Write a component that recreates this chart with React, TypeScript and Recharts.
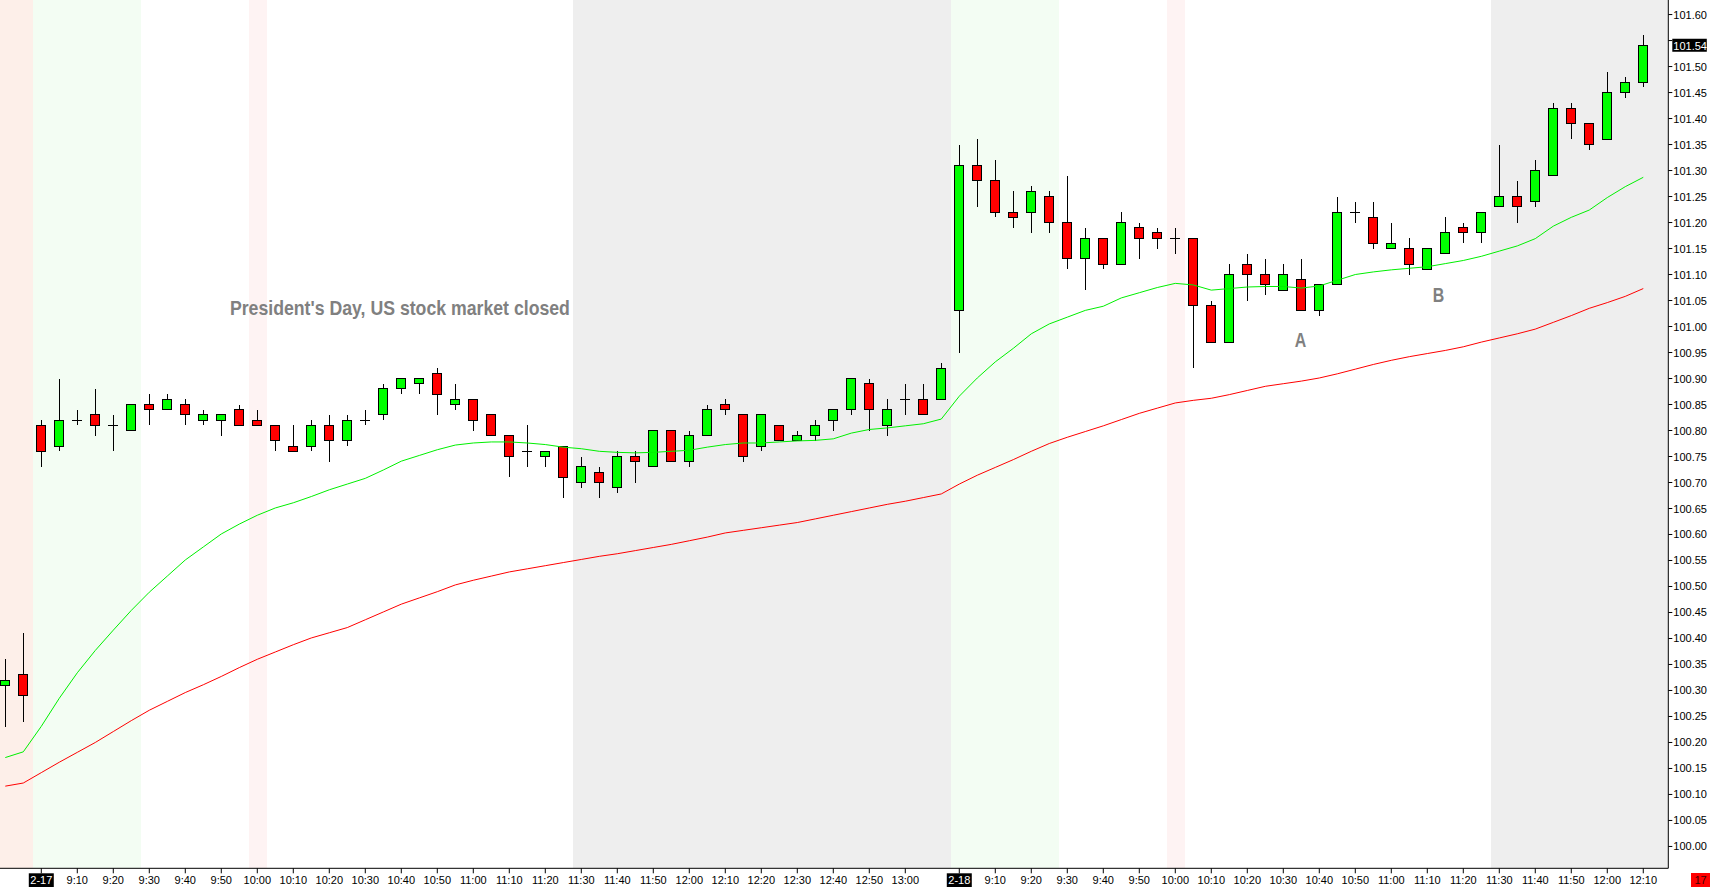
import React from 'react';
import {
  ComposedChart,
  Bar,
  Line,
  XAxis,
  YAxis,
  ReferenceArea,
  ReferenceLine,
  ReferenceDot,
} from 'recharts';

// ---- bar times (5-minute bars) ----
const times = [
  '13:05', '13:10',
  '9:00', '9:05', '9:10', '9:15', '9:20', '9:25', '9:30', '9:35', '9:40', '9:45', '9:50', '9:55',
  '10:00', '10:05', '10:10', '10:15', '10:20', '10:25', '10:30', '10:35', '10:40', '10:45', '10:50', '10:55',
  '11:00', '11:05', '11:10', '11:15', '11:20', '11:25', '11:30', '11:35', '11:40', '11:45', '11:50', '11:55',
  '12:00', '12:05', '12:10', '12:15', '12:20', '12:25', '12:30', '12:35', '12:40', '12:45', '12:50', '12:55',
  '13:00', '13:05', '13:10',
  '9:00', '9:05', '9:10', '9:15', '9:20', '9:25', '9:30', '9:35', '9:40', '9:45', '9:50', '9:55',
  '10:00', '10:05', '10:10', '10:15', '10:20', '10:25', '10:30', '10:35', '10:40', '10:45', '10:50', '10:55',
  '11:00', '11:05', '11:10', '11:15', '11:20', '11:25', '11:30', '11:35', '11:40', '11:45', '11:50', '11:55',
  '12:00', '12:05', '12:10',
];

// ---- OHLC ----
const opens = [
  100.31, 100.33,
  100.81, 100.77, 100.82, 100.83, 100.81, 100.80, 100.85, 100.84, 100.85, 100.82, 100.82, 100.84,
  100.82, 100.81, 100.77, 100.77, 100.81, 100.78, 100.82, 100.83, 100.88, 100.89, 100.91, 100.85,
  100.86, 100.83, 100.79, 100.76, 100.75, 100.77, 100.70, 100.72, 100.69, 100.75, 100.73, 100.80,
  100.74, 100.79, 100.85, 100.83, 100.77, 100.81, 100.78, 100.79, 100.82, 100.84, 100.89, 100.81,
  100.86, 100.86, 100.86,
  101.03, 101.31, 101.28, 101.22, 101.22, 101.25, 101.20, 101.13, 101.17, 101.12, 101.19, 101.18,
  101.17, 101.17, 101.04, 100.97, 101.12, 101.10, 101.07, 101.09, 101.03, 101.08, 101.22, 101.21,
  101.15, 101.15, 101.11, 101.14, 101.19, 101.18, 101.23, 101.25, 101.24, 101.29, 101.42, 101.39,
  101.36, 101.45, 101.47,
];
const highs = [
  100.36, 100.41,
  100.82, 100.90, 100.84, 100.88, 100.83, 100.85, 100.87, 100.87, 100.86, 100.84, 100.83, 100.85,
  100.84, 100.81, 100.81, 100.82, 100.83, 100.83, 100.84, 100.89, 100.90, 100.90, 100.92, 100.89,
  100.86, 100.83, 100.79, 100.81, 100.76, 100.77, 100.75, 100.73, 100.76, 100.76, 100.80, 100.80,
  100.80, 100.85, 100.86, 100.83, 100.83, 100.81, 100.80, 100.82, 100.84, 100.90, 100.90, 100.86,
  100.89, 100.89, 100.93,
  101.35, 101.36, 101.32, 101.26, 101.27, 101.26, 101.29, 101.19, 101.17, 101.22, 101.20, 101.19,
  101.19, 101.17, 101.05, 101.12, 101.14, 101.13, 101.12, 101.13, 101.08, 101.25, 101.24, 101.24,
  101.20, 101.17, 101.15, 101.21, 101.20, 101.22, 101.35, 101.28, 101.32, 101.43, 101.43, 101.39,
  101.49, 101.48, 101.56,
];
const lows = [
  100.23, 100.24,
  100.73, 100.76, 100.81, 100.79, 100.76, 100.80, 100.81, 100.84, 100.81, 100.81, 100.79, 100.81,
  100.81, 100.76, 100.76, 100.76, 100.74, 100.77, 100.81, 100.82, 100.87, 100.87, 100.83, 100.84,
  100.80, 100.79, 100.71, 100.73, 100.73, 100.67, 100.69, 100.67, 100.68, 100.70, 100.73, 100.74,
  100.73, 100.79, 100.83, 100.74, 100.76, 100.78, 100.78, 100.78, 100.80, 100.83, 100.80, 100.79,
  100.83, 100.83, 100.86,
  100.95, 101.23, 101.21, 101.19, 101.18, 101.18, 101.11, 101.07, 101.11, 101.12, 101.13, 101.15,
  101.14, 100.92, 100.97, 100.97, 101.05, 101.06, 101.07, 101.03, 101.02, 101.08, 101.20, 101.15,
  101.15, 101.10, 101.11, 101.14, 101.16, 101.16, 101.23, 101.20, 101.23, 101.29, 101.36, 101.34,
  101.36, 101.44, 101.46,
];
const closes = [
  100.32, 100.29,
  100.76, 100.82, 100.82, 100.81, 100.81, 100.85, 100.84, 100.86, 100.83, 100.83, 100.83, 100.81,
  100.81, 100.78, 100.76, 100.81, 100.78, 100.82, 100.82, 100.88, 100.90, 100.90, 100.87, 100.86,
  100.82, 100.79, 100.75, 100.76, 100.76, 100.71, 100.73, 100.70, 100.75, 100.74, 100.80, 100.74,
  100.79, 100.84, 100.84, 100.75, 100.83, 100.78, 100.79, 100.81, 100.84, 100.90, 100.84, 100.84,
  100.86, 100.83, 100.92,
  101.31, 101.28, 101.22, 101.21, 101.26, 101.20, 101.13, 101.17, 101.12, 101.20, 101.17, 101.17,
  101.17, 101.04, 100.97, 101.10, 101.10, 101.08, 101.10, 101.03, 101.08, 101.22, 101.22, 101.16,
  101.16, 101.12, 101.15, 101.18, 101.18, 101.22, 101.25, 101.23, 101.30, 101.42, 101.39, 101.35,
  101.45, 101.47, 101.54,
];

// ---- moving averages ----
const emaFast = [
  100.171, 100.182, 100.231, 100.285, 100.334, 100.377, 100.416, 100.454, 100.489, 100.520,
  100.551, 100.576, 100.601, 100.620, 100.637, 100.651, 100.661, 100.673, 100.686, 100.697,
  100.708, 100.724, 100.741, 100.752, 100.763, 100.772, 100.776, 100.778, 100.778, 100.776,
  100.773, 100.768, 100.765, 100.760, 100.758, 100.757, 100.758, 100.760, 100.762, 100.768,
  100.773, 100.776, 100.776, 100.778, 100.780, 100.781, 100.784, 100.795, 100.802, 100.805,
  100.809, 100.813, 100.822, 100.866, 100.901, 100.932, 100.958, 100.986, 101.005, 101.018,
  101.031, 101.039, 101.055, 101.065, 101.075, 101.083, 101.080, 101.070, 101.073, 101.076,
  101.077, 101.077, 101.074, 101.078, 101.089, 101.100, 101.105, 101.109, 101.112, 101.115,
  101.121, 101.127, 101.135, 101.145, 101.155, 101.169, 101.193, 101.210, 101.224, 101.248,
  101.269, 101.287,
];
const emaSlow = [
  100.116, 100.122, 100.142, 100.162, 100.181, 100.200, 100.221, 100.242, 100.262, 100.279,
  100.296, 100.311, 100.327, 100.344, 100.360, 100.374, 100.388, 100.401, 100.411, 100.421,
  100.436, 100.451, 100.466, 100.478, 100.490, 100.503, 100.512, 100.520, 100.528, 100.534,
  100.540, 100.546, 100.552, 100.558, 100.563, 100.569, 100.575, 100.581, 100.588, 100.595,
  100.603, 100.608, 100.613, 100.618, 100.623, 100.630, 100.637, 100.644, 100.651, 100.658,
  100.664, 100.671, 100.678, 100.697, 100.714, 100.729, 100.744, 100.760, 100.775, 100.787,
  100.798, 100.809, 100.821, 100.833, 100.843, 100.853, 100.858, 100.862, 100.869, 100.877,
  100.885, 100.890, 100.895, 100.901, 100.909, 100.918, 100.927, 100.935, 100.942, 100.948,
  100.954, 100.961, 100.970, 100.978, 100.986, 100.995, 101.008, 101.021, 101.035, 101.046,
  101.058, 101.073,
];

// ---- axis ticks ----
const xTickBars = [
  2, 4, 6, 8, 10, 12, 14, 16, 18, 20, 22, 24, 26, 28, 30, 32, 34, 36, 38, 40, 42, 44, 46, 48, 50,
  53, 55, 57, 59, 61, 63, 65, 67, 69, 71, 73, 75, 77, 79, 81, 83, 85, 87, 89, 91,
];
const sessionStartBars = [2, 53];
const sessionDates = ['2-17', '2-18'];
const yTicks = [
  100.0, 100.05, 100.1, 100.15, 100.2, 100.25, 100.3, 100.35, 100.4, 100.45, 100.5, 100.55,
  100.6, 100.65, 100.7, 100.75, 100.8, 100.85, 100.9, 100.95, 101.0, 101.05, 101.1, 101.15,
  101.2, 101.25, 101.3, 101.35, 101.4, 101.45, 101.5, 101.55, 101.6,
];

// ---- session background bands (bar index ranges, inclusive) ----
const bandFrom = [-1, 2, 14, 32, 53, 65, 83];
const bandTo = [1, 7, 14, 52, 58, 65, 99];
const bandColors = ['#FDEFE9', '#F3FDF3', '#FEF3F3', '#EEEEEE', '#F3FDF3', '#FEF3F3', '#EEEEEE'];

// ---- annotations (bar position, price at text baseline) ----
const noteTexts = ["President's Day, US stock market closed", 'A', 'B'];
const noteBars = [12.48, 71.95, 79.62];
const notePrices = [101.022, 100.96, 101.048];

const X_DOMAIN: [number, number] = [-0.294, 92.39];
const Y_DOMAIN: [number, number] = [99.958, 101.628];
const AXIS_FONT = 'Liberation Sans, Arial, sans-serif';
const LAST_CLOSE = closes[closes.length - 1];

const data = times.map((t, i) => ({
  i,
  t,
  o: opens[i],
  h: highs[i],
  l: lows[i],
  c: closes[i],
  range: [lows[i], highs[i]],
  fast: emaFast[i],
  slow: emaSlow[i],
}));

function CandleShape(props: any) {
  const { x, y, width, height, payload } = props;
  if (x == null || y == null || !payload) return null;
  const top = Math.min(y, y + height);
  const bot = Math.max(y, y + height);
  const span = payload.h - payload.l;
  const k = span > 0 ? (bot - top) / span : 0;
  const cx = x + width / 2;
  const yO = top + (payload.h - payload.o) * k;
  const yC = top + (payload.h - payload.c) * k;
  const bTop = Math.min(yO, yC);
  const bBot = Math.max(yO, yC);
  const up = payload.c > payload.o;
  const flat = Math.abs(payload.c - payload.o) < 1e-9;
  return (
    <g shapeRendering="crispEdges">
      <line x1={cx} x2={cx} y1={top} y2={bot} stroke="#000" strokeWidth={1} />
      {flat ? (
        <line x1={cx - 5} x2={cx + 5} y1={yO} y2={yO} stroke="#000" strokeWidth={1} />
      ) : (
        <rect
          x={cx - 4.5}
          y={bTop}
          width={9}
          height={Math.max(1, bBot - bTop)}
          fill={up ? '#00FF00' : '#FF0000'}
          stroke="#000"
          strokeWidth={1}
        />
      )}
    </g>
  );
}

function XTick(props: any) {
  const { x, y, payload } = props;
  const v = payload.value;
  const di = sessionStartBars.indexOf(v);
  const label = di >= 0 ? sessionDates[di] : times[v];
  return (
    <g>
      {di >= 0 && <rect x={x - 12.5} y={y - 3} width={25} height={14} fill="#000" />}
      <text
        x={x}
        y={y + 7.7}
        textAnchor="middle"
        fontSize={11}
        fontFamily={AXIS_FONT}
        fill={di >= 0 ? '#fff' : '#000'}
      >
        {label}
      </text>
    </g>
  );
}

function YTick(props: any) {
  const { x, y, payload } = props;
  const v = payload.value as number;
  // the tick hidden behind the last-price box gets no label
  if (Math.abs(v - LAST_CLOSE) < 0.02) return <g />;
  return (
    <text x={x} y={y + 4} textAnchor="start" fontSize={11} fontFamily={AXIS_FONT} fill="#000">
      {v.toFixed(2)}
    </text>
  );
}

function PriceLabel(props: any) {
  const vb = props.viewBox || {};
  const x0 = (vb.x || 0) + (vb.width || 0) + 4;
  const yc = vb.y || 0;
  return (
    <g>
      <rect x={x0} y={yc - 7} width={34.5} height={13} fill="#000" />
      <text x={x0 + 1} y={yc + 4} fontSize={11} fontFamily={AXIS_FONT} fill="#fff">
        {LAST_CLOSE.toFixed(2)}
      </text>
    </g>
  );
}

function makeNote(idx: number) {
  return (p: any) => {
    const isLong = noteTexts[idx].length > 1;
    return (
      <text
        x={p.cx}
        y={p.cy}
        textAnchor={isLong ? 'start' : 'middle'}
        fontSize={21}
        fontWeight="bold"
        fontFamily={AXIS_FONT}
        fill="#808080"
        textLength={isLong ? 340 : 11.5}
        lengthAdjust="spacingAndGlyphs"
      >
        {noteTexts[idx]}
      </text>
    );
  };
}

export default function App() {
  return (
    <div style={{ position: 'absolute', left: 0, top: 0, width: 1721, height: 887, background: '#fff' }}>
      <ComposedChart
        width={1721}
        height={887}
        data={data}
        margin={{ top: 0, right: 0, bottom: 0, left: 0 }}
      >
        {bandFrom.map((f, k) => (
          <ReferenceArea
            key={'band' + k}
            x1={Math.max(X_DOMAIN[0], f - 0.46)}
            x2={Math.min(X_DOMAIN[1], bandTo[k] + 0.54)}
            y1={Y_DOMAIN[0]}
            y2={Y_DOMAIN[1]}
            fill={bandColors[k]}
            fillOpacity={1}
            stroke="none"
            ifOverflow="hidden"
          />
        ))}
        <XAxis
          dataKey="i"
          type="number"
          domain={X_DOMAIN}
          allowDataOverflow
          ticks={xTickBars}
          interval={0}
          tick={<XTick />}
          tickSize={5}
          tickMargin={3}
          height={18.7}
          axisLine={{ stroke: '#000' }}
          tickLine={{ stroke: '#000' }}
        />
        <YAxis
          orientation="right"
          type="number"
          domain={Y_DOMAIN}
          allowDataOverflow
          ticks={yTicks}
          interval={0}
          width={52.7}
          tickSize={4}
          tickMargin={1}
          tick={<YTick />}
          axisLine={{ stroke: '#000' }}
          tickLine={{ stroke: '#000' }}
        />
        <Bar
          dataKey="range"
          barSize={10}
          isAnimationActive={false}
          shape={(p: any) => <CandleShape {...p} />}
        />
        <Line
          dataKey="slow"
          type="linear"
          stroke="#FF0000"
          strokeWidth={1}
          dot={false}
          activeDot={false}
          isAnimationActive={false}
        />
        <Line
          dataKey="fast"
          type="linear"
          stroke="#00F000"
          strokeWidth={1}
          dot={false}
          activeDot={false}
          isAnimationActive={false}
        />
        {noteTexts.map((t, k) => (
          <ReferenceDot
            key={'note' + k}
            x={noteBars[k]}
            y={notePrices[k]}
            r={0}
            ifOverflow="visible"
            shape={makeNote(k)}
          />
        ))}
        <ReferenceLine
          y={LAST_CLOSE}
          stroke="none"
          ifOverflow="visible"
          label={(p: any) => <PriceLabel {...p} />}
        />
      </ComposedChart>
      <div
        style={{
          position: 'absolute',
          left: 1691,
          top: 873,
          width: 19,
          height: 14,
          background: '#FF0000',
          color: '#400000',
          fontFamily: AXIS_FONT,
          fontSize: 11,
          lineHeight: '14px',
          textAlign: 'center',
        }}
      >
        17
      </div>
    </div>
  );
}
